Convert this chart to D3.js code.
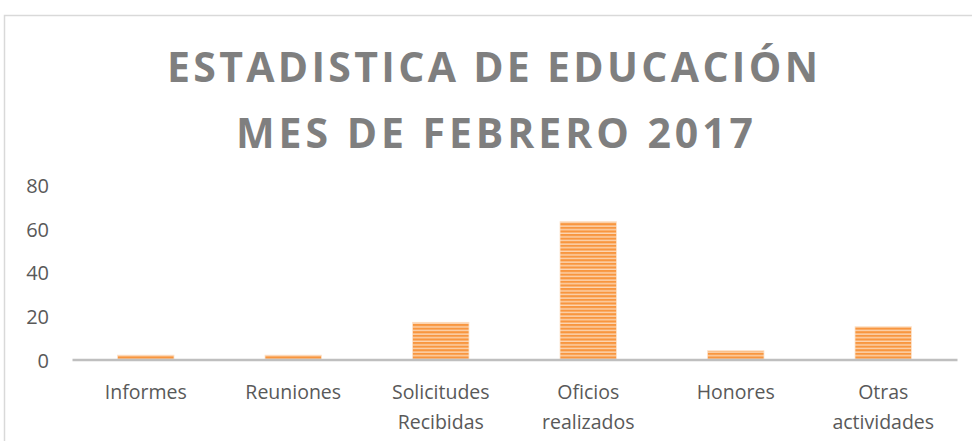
<!DOCTYPE html>
<html>
<head>
<meta charset="utf-8">
<script src="https://cdn.jsdelivr.net/npm/d3@7"></script>
<style>
  html, body { margin: 0; padding: 0; background: #fff; }
  svg { display: block; }
</style>
</head>
<body>
<svg id="chart" width="972" height="441"></svg>
<script>
const titleLines = ["ESTADISTICA DE EDUCACIÓN", "MES DE FEBRERO 2017"];
const categories = [["Informes"], ["Reuniones"], ["Solicitudes", "Recibidas"], ["Oficios", "realizados"], ["Honores"], ["Otras", "actividades"]];
const values = [2, 2, 17, 63, 4, 15];
const yTicks = [0, 20, 40, 60, 80];

const svg = d3.select("#chart");
const W = 972, H = 441;

svg.append("rect").attr("width", W).attr("height", H).attr("fill", "#fff");

// chart border (extends beyond the frame on right/bottom)
svg.append("rect")
  .attr("x", 4.5).attr("y", 15.5)
  .attr("width", 1000).attr("height", 500)
  .attr("fill", "none").attr("stroke", "#d9d9d9").attr("stroke-width", 1.5);

// stripe pattern
const defs = svg.append("defs");
const pat = defs.append("pattern")
  .attr("id", "stripes").attr("patternUnits", "userSpaceOnUse")
  .attr("width", 8).attr("height", 3.6);
pat.append("rect").attr("width", 8).attr("height", 3.6).attr("fill", "#fcd6b3");
pat.append("rect").attr("y", 0).attr("width", 8).attr("height", 2.2).attr("fill", "#f8963f");

// title
const title = svg.append("text")
  .attr("text-anchor", "middle")
  .attr("font-family", "'Open Sans', sans-serif")
  .attr("font-weight", "bold")
  .attr("font-size", 41)
  .attr("fill", "#7f7f7f");
title.append("tspan").attr("x", 492.5).attr("y", 82)
  .attr("textLength", 651).attr("lengthAdjust", "spacing").text(titleLines[0]);
title.append("tspan").attr("x", 494.5).attr("y", 148)
  .attr("textLength", 517).attr("lengthAdjust", "spacing").text(titleLines[1]);

const x = d3.scaleBand()
  .domain(d3.range(categories.length))
  .range([72, 957])
  .paddingInner(0.617)
  .paddingOuter(0.3085);

const y = d3.scaleLinear().domain([0, 80]).range([359.5, 184.5]);

// y axis labels
const yAxis = d3.axisLeft(y).tickValues(yTicks).tickSize(0).tickPadding(0);
const gy = svg.append("g").attr("transform", "translate(49,1.5)").call(yAxis);
gy.select(".domain").remove();
gy.selectAll("text")
  .attr("font-family", "'Open Sans', sans-serif")
  .attr("font-size", 20)
  .attr("fill", "#595959");

// bars
svg.append("g").selectAll("rect")
  .data(values)
  .join("rect")
  .attr("x", (d, i) => x(i))
  .attr("y", d => y(d))
  .attr("width", x.bandwidth())
  .attr("height", d => y(0) - y(d))
  .attr("fill", "url(#stripes)")
  .attr("stroke", "#fde3cb")
  .attr("stroke-width", 0.8);

// x axis line
const xAxis = d3.axisBottom(x).tickSize(0).tickPadding(0).tickFormat(() => "");
const gx = svg.append("g").attr("transform", `translate(0,${y(0)})`).call(xAxis);
gx.select(".domain").attr("stroke", "#bfbfbf").attr("stroke-width", 2.5);
gx.selectAll(".tick text").remove();

// x labels (multi-line)
const lbl = svg.append("g").selectAll("text")
  .data(categories)
  .join("text")
  .attr("text-anchor", "middle")
  .attr("font-family", "'Open Sans', sans-serif")
  .attr("font-size", 19.5)
  .attr("fill", "#595959")
  .attr("x", (d, i) => x(i) + x.bandwidth() / 2);
lbl.selectAll("tspan")
  .data(d => d)
  .join("tspan")
  .attr("x", function() { return d3.select(this.parentNode).attr("x"); })
  .attr("y", (d, j) => 399 + j * 29.5)
  .text(d => d);
</script>
</body>
</html>
